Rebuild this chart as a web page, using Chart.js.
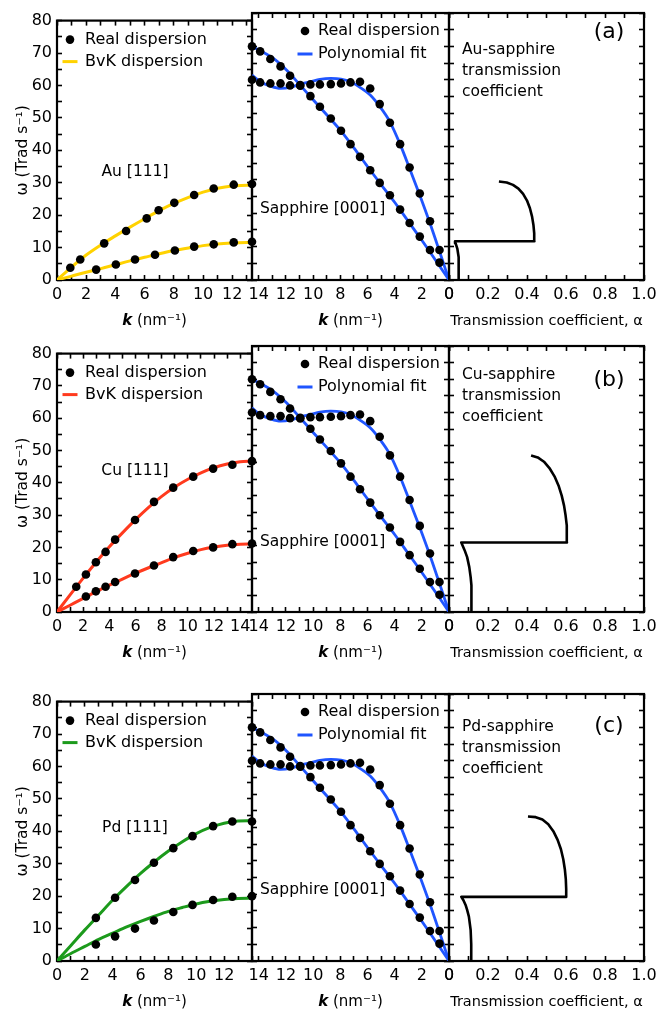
<!DOCTYPE html>
<html><head><meta charset="utf-8">
<script src="https://cdn.jsdelivr.net/npm/chart.js@4.4.1/dist/chart.umd.min.js"></script>
<style>
html,body{margin:0;padding:0;background:#fff;}
#wrap{position:relative;width:658px;height:1018px;overflow:hidden;background:#fff;}
#wrap canvas{position:absolute;}
</style></head><body><div id="wrap"></div>
<script>
// ---------------- DATA ----------------
// Au [111]
const auDotKUpper = [0.91, 1.59, 3.23, 4.73, 6.14, 6.96, 8.03, 9.39, 10.73, 12.10, 13.35];
const auDotWUpper = [3.8, 6.3, 11.3, 15.1, 19.0, 21.5, 23.8, 26.2, 28.2, 29.4, 29.6];
const auDotKLower = [2.68, 4.03, 5.34, 6.71, 8.07, 9.39, 10.73, 12.10, 13.35];
const auDotWLower = [3.2, 4.8, 6.3, 7.8, 9.1, 10.3, 11.0, 11.6, 11.8];
const auFitK = [0, 1, 2, 3, 4, 5, 6, 7, 8, 9, 10, 11, 12, 13, 13.35];
const auFitUpper = [0, 4.0, 7.7, 10.8, 13.6, 16.3, 18.9, 21.4, 23.6, 25.5, 27.1, 28.3, 29.0, 29.2, 29.3];
const auFitLower = [0, 1.2, 2.4, 3.5, 4.7, 5.9, 7.0, 8.1, 9.1, 9.9, 10.6, 11.1, 11.4, 11.6, 11.6];
// Cu [111]
const cuDotKUpper = [1.47, 2.21, 2.97, 3.71, 4.44, 5.96, 7.41, 8.88, 10.41, 11.93, 13.40, 14.9];
const cuDotWUpper = [7.8, 11.6, 15.4, 18.6, 22.4, 28.5, 34.1, 38.5, 41.9, 44.4, 45.6, 46.7];
const cuDotKLower = [2.21, 2.97, 3.71, 4.44, 5.96, 7.41, 8.88, 10.41, 11.93, 13.40, 14.9];
const cuDotWLower = [4.8, 6.4, 7.8, 9.3, 11.9, 14.4, 17.0, 18.9, 20.0, 21.0, 21.2];
const cuFitK = [0, 1, 2, 3, 4, 5, 6, 7, 8, 9, 10, 11, 12, 13, 14, 14.9];
const cuFitUpper = [0, 5.3, 10.5, 15.5, 20.2, 24.5, 28.6, 32.4, 35.8, 38.7, 41.1, 43.1, 44.7, 45.8, 46.5, 46.7];
const cuFitLower = [0, 2.1, 4.2, 6.3, 8.3, 10.2, 12.0, 13.7, 15.3, 16.9, 18.2, 19.3, 20.1, 20.7, 21.0, 21.1];
// Pd [111]
const pdDotK = [2.79, 4.17, 5.60, 6.96, 8.35, 9.73, 11.21, 12.59, 14.0];
const pdDotWUpper = [13.3, 19.5, 25.0, 30.3, 34.8, 38.5, 41.6, 43.0, 43.0];
const pdDotWLower = [5.1, 7.6, 10.0, 12.5, 15.1, 17.3, 18.8, 19.8, 20.0];
const pdFitK = [0, 1, 2, 3, 4, 5, 6, 7, 8, 9, 10, 11, 12, 13, 14];
const pdFitUpper = [0, 4.8, 9.6, 14.2, 18.8, 23.0, 27.0, 30.6, 33.9, 36.8, 39.3, 41.2, 42.5, 43.2, 43.3];
const pdFitLower = [0, 2.3, 4.5, 6.7, 8.6, 10.5, 12.2, 13.8, 15.3, 16.5, 17.6, 18.4, 19.0, 19.3, 19.4];
// Sapphire [0001]
const sapDotK = [14.5, 13.9, 13.15, 12.4, 11.7, 10.95, 10.2, 9.5, 8.7, 7.95, 7.25, 6.55, 5.8, 5.1, 4.35, 3.6, 2.9, 2.15, 1.4, 0.7];
const sapDotWLinear = [70.0, 68.5, 66.2, 64.0, 61.2, 58.2, 55.1, 51.9, 48.4, 44.7, 40.7, 36.9, 32.9, 29.1, 25.4, 21.1, 17.1, 13.0, 9.0, 5.2];
const sapDotWFlat = [60.0, 59.2, 58.9, 58.9, 58.3, 58.4, 58.6, 58.6, 58.7, 58.9, 59.2, 59.4, 57.4, 52.7, 47.1, 40.7, 33.7, 25.9, 17.6, 9.0];
const sapFitKLinear = [14.5, 13, 12, 11, 10, 9, 8, 7, 6, 5, 4, 3, 2, 1, 0];
const sapFitWLinear = [70.0, 66.6, 63.1, 58.6, 54.0, 49.5, 44.9, 39.6, 34.0, 28.6, 23.3, 17.6, 11.9, 6.0, 0];
const sapFitKFlat = [14.5, 13.9, 13.15, 12.4, 11.7, 10.95, 10.2, 9.5, 8.7, 7.95, 7.25, 6.55, 5.8, 5.1, 4.35, 3.6, 2.9, 2.15, 1.4, 0.7, 0];
const sapFitWFlat = [61.4, 59.4, 58.1, 57.4, 57.7, 58.7, 59.4, 60.1, 60.4, 60.2, 59.4, 57.7, 55.4, 52.0, 47.4, 40.7, 33.4, 25.4, 17.0, 8.6, 0];
// Transmission coefficients
const auAlpha = [0.051, 0.051, 0.048, 0.043, 0.034, 0.031, 0.438, 0.437, 0.433, 0.426, 0.415, 0.400, 0.380, 0.356, 0.328, 0.296, 0.256];
const auTransW = [0, 3.8, 6.8, 9.3, 11.0, 11.6, 11.6, 14.0, 16.5, 19.0, 21.5, 23.8, 25.8, 27.4, 28.5, 29.2, 29.5];
const cuAlpha = [0.116, 0.116, 0.114, 0.111, 0.104, 0.093, 0.080, 0.068, 0.063, 0.605, 0.605, 0.603, 0.598, 0.590, 0.578, 0.562, 0.541, 0.515, 0.487, 0.455, 0.421];
const cuTransW = [0, 4.0, 8.0, 10.5, 13.5, 16.5, 18.6, 20.2, 20.9, 20.9, 23.0, 26.0, 29.0, 32.0, 35.0, 38.0, 40.8, 43.3, 45.2, 46.5, 47.1];
const pdAlpha = [0.114, 0.114, 0.111, 0.102, 0.093, 0.085, 0.074, 0.063, 0.601, 0.601, 0.599, 0.594, 0.586, 0.574, 0.557, 0.535, 0.509, 0.479, 0.445, 0.405];
const pdTransW = [0, 5.0, 9.3, 13.3, 15.3, 16.8, 18.2, 19.2, 19.2, 21.5, 24.5, 27.5, 30.5, 33.5, 36.3, 38.9, 41.0, 42.4, 43.1, 43.3];
// axis tick labels
const alphaTickLabels = ['0', '0.2', '0.4', '0.6', '0.8', '1.0'];

// ---------------- STYLE / LAYOUT ----------------
const FONT = '"DejaVu Sans"';
const COLS = [[57, 252], [252, 449], [449, 644]];
const ROWS = [[13, 280], [346, 612], [694, 961]];
const PAD_T = 12, PAD_S = 25, AXIS_H = 60, TICK = -5;
const YELLOW = '#FFD200', RED = '#FF3A1E', GREEN = '#1C9A1C', BLUE = '#1F55FF';

const pts = (xs, ys) => xs.map((x, i) => ({x: x, y: ys[i]}));

function txt(ctx, s, x, y, size, align, style) {
  ctx.font = (style ? style + ' ' : '') + size + 'px ' + FONT;
  ctx.textAlign = align || 'left';
  ctx.textBaseline = 'middle';
  ctx.fillStyle = '#000';
  ctx.fillText(s, x, y);
}

// inward tick marks using Chart.js grid ticks (negative length)
const tickGrid = {display: true, drawOnChartArea: false, drawTicks: true, tickLength: TICK, tickWidth: 1.6, tickColor: '#000'};

function makeDecor(o) {
  return {
    id: 'decor',
    beforeDatasetsDraw(chart) {
      const ctx = chart.ctx, a = chart.chartArea;
      ctx.save();
      ctx.strokeStyle = '#000';
      ctx.lineWidth = 2.2;
      ctx.strokeRect(a.left, a.top, a.right - a.left, a.bottom - a.top);
      ctx.restore();
    },
    afterDraw(chart) {
      const ctx = chart.ctx, a = chart.chartArea;
      ctx.save();
      (o.texts || []).forEach(t => txt(ctx, t.t, a.left + t.x, a.top + t.y, t.size || 15.5, t.align, t.style));
      if (o.legend) {
        const L = o.legend;
        L.rows.forEach(r => {
          const cy = a.top + r.y, mx = a.left + L.mx;
          if (r.kind === 'dot') {
            ctx.fillStyle = '#000';
            ctx.beginPath(); ctx.arc(mx, cy, 4.3, 0, Math.PI * 2); ctx.fill();
          } else {
            ctx.strokeStyle = r.color; ctx.lineWidth = 3;
            ctx.beginPath(); ctx.moveTo(mx - 7.5, cy); ctx.lineTo(mx + 7.5, cy); ctx.stroke();
          }
          txt(ctx, r.text, a.left + L.tx, cy, 16, 'left');
        });
      }
      const midX = (a.left + a.right) / 2, ty = a.bottom + 41;
      if (o.xTitle === 'k') {
        ctx.font = 'italic bold 15px ' + FONT; const w1 = ctx.measureText('k').width;
        ctx.font = '15px ' + FONT; const w2 = ctx.measureText(' (nm\u207B\u00B9)').width;
        const sx0 = midX - (w1 + w2) / 2;
        txt(ctx, 'k', sx0, ty, 15, 'left', 'italic bold');
        txt(ctx, ' (nm\u207B\u00B9)', sx0 + w1, ty, 15, 'left');
      } else if (o.xTitle) {
        txt(ctx, o.xTitle, midX, ty, 14.5, 'center');
      }
      ctx.restore();
    }
  };
}

function makePanel(col, row, datasets, xOpt, decorOpt) {
  const [L, R] = COLS[col], [T, B] = ROWS[row];
  const left = col === 0 ? 0 : L - PAD_S;
  const cw = R - left + PAD_S, ch = PAD_T + (B - T) + AXIS_H;
  const cv = document.createElement('canvas');
  cv.width = cw; cv.height = ch;
  cv.style.left = left + 'px'; cv.style.top = (T - PAD_T) + 'px';
  document.getElementById('wrap').appendChild(cv);
  const tickFont = {family: 'DejaVu Sans', size: 16};
  const yScale = {
    type: 'linear', min: 0, max: 80, position: 'left',
    grid: tickGrid, border: {display: false},
    ticks: {stepSize: 5, padding: 10, color: '#000', font: tickFont, autoSkip: false,
            display: col === 0, callback: v => (v % 10 === 0 ? String(v) : '')},
    afterFit: s => { s.width = col === 0 ? L : 0; }
  };
  if (col === 0) {
    yScale.title = {display: true, text: 'ω (Trad s\u207B\u00B9)', color: '#000',
      font: {family: 'DejaVu Sans', size: 15.5}, padding: {top: 14, bottom: 0}};
  }
  new Chart(cv, {
    type: 'scatter',
    data: {datasets: datasets},
    options: {
      responsive: false, animation: false, devicePixelRatio: 1, events: [],
      layout: {padding: {left: col === 0 ? 0 : PAD_S, right: PAD_S, top: PAD_T, bottom: 0}},
      plugins: {legend: {display: false}, tooltip: {enabled: false}},
      scales: {
        x: {
          type: 'linear', min: 0, max: xOpt.max, reverse: !!xOpt.reverse, position: 'bottom',
          grid: tickGrid, border: {display: false},
          afterFit: s => { s.height = AXIS_H; },
          ticks: {stepSize: xOpt.minor, includeBounds: false, autoSkip: false, maxRotation: 0, padding: 10,
            color: '#000', font: tickFont, callback: xOpt.label}
        },
        x2: {
          type: 'linear', axis: 'x', min: 0, max: xOpt.max, reverse: !!xOpt.reverse, position: 'top',
          grid: tickGrid, border: {display: false},
          afterFit: s => { s.height = 0; },
          ticks: {stepSize: xOpt.minor, includeBounds: false, autoSkip: false, display: false}
        },
        y: yScale,
        y2: {
          type: 'linear', axis: 'y', min: 0, max: 80, position: 'right',
          grid: tickGrid, border: {display: false},
          afterFit: s => { s.width = 0; },
          ticks: {stepSize: 5, autoSkip: false, display: false}
        }
      }
    },
    plugins: [makeDecor(decorOpt)]
  });
}

const dots = (xs, ys) => ({data: pts(xs, ys), showLine: false, pointRadius: 4.3, pointBackgroundColor: '#000',
  pointBorderWidth: 0, clip: false, order: 0});
const curve = (xs, ys, color, w) => ({data: pts(xs, ys), showLine: true, pointRadius: 0, borderColor: color,
  borderWidth: w || 3, cubicInterpolationMode: 'monotone', order: 1});
const poly = (xs, ys) => ({data: pts(xs, ys), showLine: true, pointRadius: 0, borderColor: '#000',
  borderWidth: 2.6, tension: 0, borderJoinStyle: 'round', order: 1});

const metals = [
  {name: 'Au [111]', kmax: 13.35, color: YELLOW, nameY: 151,
   dK1: auDotKUpper, dW1: auDotWUpper, dK2: auDotKLower, dW2: auDotWLower,
   fK: auFitK, f1: auFitUpper, f2: auFitLower,
   tA: auAlpha, tW: auTransW, tLabel: 'Au-sapphire', tY: 37, letter: '(a)', letterY: 19},
  {name: 'Cu [111]', kmax: 14.9, color: RED, nameY: 117,
   dK1: cuDotKUpper, dW1: cuDotWUpper, dK2: cuDotKLower, dW2: cuDotWLower,
   fK: cuFitK, f1: cuFitUpper, f2: cuFitLower,
   tA: cuAlpha, tW: cuTransW, tLabel: 'Cu-sapphire', tY: 29, letter: '(b)', letterY: 34},
  {name: 'Pd [111]', kmax: 14.0, color: GREEN, nameY: 126,
   dK1: pdDotK, dW1: pdDotWUpper, dK2: pdDotK, dW2: pdDotWLower,
   fK: pdFitK, f1: pdFitUpper, f2: pdFitLower,
   tA: pdAlpha, tW: pdTransW, tLabel: 'Pd-sapphire', tY: 33, letter: '(c)', letterY: 32}
];

metals.forEach((m, row) => {
  makePanel(0, row, [
    dots(m.dK1, m.dW1), dots(m.dK2, m.dW2),
    curve(m.fK, m.f1, m.color), curve(m.fK, m.f2, m.color)
  ], {max: m.kmax, minor: 1, label: v => ((Math.round(v) % 2 === 0 && v < m.kmax - 0.05) ? String(Math.round(v)) : '')},
  {xTitle: 'k',
   texts: [{t: m.name, x: 78, y: m.nameY, align: 'center'}],
   legend: {mx: 13, tx: 28, rows: [
     {kind: 'dot', text: 'Real dispersion', y: 19},
     {kind: 'line', color: m.color, text: 'BvK dispersion', y: 41}]}});
  makePanel(1, row, [
    dots(sapDotK, sapDotWLinear), dots(sapDotK, sapDotWFlat),
    curve(sapFitKLinear, sapFitWLinear, BLUE, 2.8), curve(sapFitKFlat, sapFitWFlat, BLUE, 2.8)
  ], {max: 14.5, reverse: true, minor: 1, label: v => (Math.round(v) % 2 === 0 ? String(Math.round(v)) : '')},
  {xTitle: 'k',
   texts: [{t: 'Sapphire [0001]', x: 8, y: 196, align: 'left'}],
   legend: {mx: 53, tx: 66, rows: [
     {kind: 'dot', text: 'Real dispersion', y: 18},
     {kind: 'line', color: BLUE, text: 'Polynomial fit', y: 41}]}});
  makePanel(2, row, [poly(m.tA, m.tW)],
  {max: 1, minor: 0.1, label: (v, i) => (i % 2 === 0 ? alphaTickLabels[i / 2] : '')},
  {xTitle: 'Transmission coefficient, α',
   texts: [
     {t: m.tLabel, x: 13, y: m.tY, align: 'left'},
     {t: 'transmission', x: 13, y: m.tY + 21, align: 'left'},
     {t: 'coefficient', x: 13, y: m.tY + 42, align: 'left'},
     {t: m.letter, x: 160, y: m.letterY, align: 'center', size: 22}
   ]});
});
</script>
</body></html>
